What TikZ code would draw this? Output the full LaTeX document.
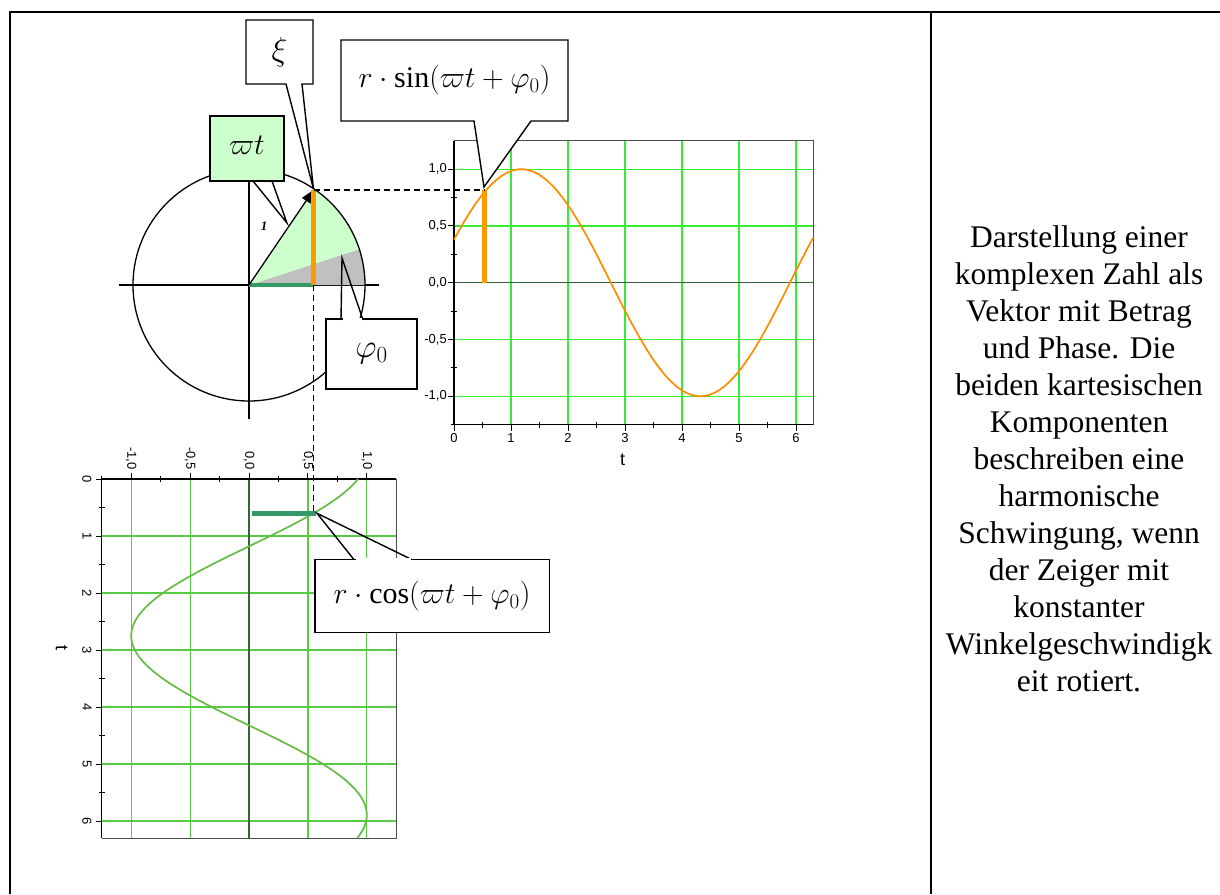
\RequirePackage{fix-cm}
\documentclass[tikz,border=0pt]{standalone}
\usepackage{fontspec}
\setmainfont{Liberation Serif}
\newfontfamily\plotfont{Liberation Sans}
\usetikzlibrary{arrows.meta}
\definecolor{lightgreen}{HTML}{CCFFCC}
\definecolor{sectorgray}{HTML}{C0C0C0}
\definecolor{barorange}{HTML}{FF9900}
\definecolor{curveorange}{HTML}{FF8C00}
\definecolor{bargreen}{HTML}{339966}
\definecolor{gridgreen}{HTML}{33EE33}
\definecolor{gridgreenb}{HTML}{55CC44}
\definecolor{cosgreen}{HTML}{66BB44}
\definecolor{zerogreen}{HTML}{336633}
\tikzset{
  tableline/.style={line width=2pt},
  boxline/.style={draw=black, line width=1.4pt, line join=miter},
  calltext/.style={font=\fontsize{30}{34}\selectfont, inner sep=0pt},
  ticklab/.style={font=\plotfont\fontsize{13}{15}\selectfont, inner sep=1pt},
  axislab/.style={font=\plotfont\fontsize{18}{19}\selectfont, inner sep=0pt},
  gridline/.style={gridgreen, line width=1.2pt},
  gridlineb/.style={gridgreenb, line width=1.2pt},
  tickline/.style={line width=1pt},
  dashline/.style={line width=1.3pt, dash pattern=on 6pt off 4pt},
}
\begin{document}
\begin{tikzpicture}[x=1pt,y=-1pt]
\useasboundingbox (0,0) rectangle (1220,894);

% table lines
\draw[tableline] (9,12) -- (1220,12);
\draw[tableline] (10,11) -- (10,894);
\draw[tableline] (931,12) -- (931,894);

% ---------- circle ----------
\coordinate (C) at (249,285);
\coordinate (tip) at (313.5,190);
\coordinate (foot) at (313.5,285);
\draw[line width=1.3pt] (119,285) -- (379,285);
\draw[line width=1.3pt] (249,165) -- (249,419);
\fill[sectorgray] (C) -- ++(0:116) arc[start angle=0,end angle=-18,radius=116] -- cycle;
\fill[lightgreen] (C) -- ++(-18:116) arc[start angle=-18,end angle=-55.8,radius=116] -- cycle;
\draw[line width=1.3pt] (C) circle[radius=116];
\draw[bargreen, line width=4pt] (C) -- (foot);
\draw[line width=1.3pt, -{Triangle[length=13pt,width=10pt]}] (C) -- (tip);
\draw[barorange, line width=4.5pt] (foot) -- (tip);
\node[font=\bfseries\itshape\fontsize{13}{14}\selectfont, inner sep=0pt] (one) at (264,226) {1};

% ---------- sine plot ----------
\coordinate (sbbot) at (484,282.7);
\coordinate (sbtop) at (484,190);
\begin{scope}[shift={(454,282.7)}, x=57pt, y=113.5pt]
  \foreach \t in {1,...,6} \draw[gridline] (\t,-1.25) -- (\t,1.25);
  \foreach \v in {-1,-0.5,0.5,1} \draw[gridline] (0,\v) -- (6.3,\v);
  \draw[zerogreen, line width=1.2pt] (0,0) -- (6.3,0);
  \draw[black!70, line width=1pt] (0,1.25) -- (6.3,1.25) -- (6.3,-1.25);
  \draw[line width=1.3pt] (0,1.25) -- (0,-1.25) -- (6.3,-1.25);
  \foreach \v in {-1,-0.5,0,0.5,1} \draw[tickline] (0,\v) -- ++(-6pt,0pt);
  \foreach \v in {-1.25,-0.75,-0.25,0.25,0.75} \draw[tickline] (0,\v) ++(-3pt,0pt) -- ++(6pt,0pt);
  \foreach \t in {0,...,6} \draw[tickline] (\t,-1.25) -- ++(0pt,-6pt);
  \foreach \t in {0.5,1.5,2.5,3.5,4.5,5.5} \draw[tickline] (\t,-1.25) ++(0pt,-3pt) -- ++(0pt,6pt);
  \foreach \v/\l/\n in {1/{1,0}/a,0.5/{0,5}/b,0/{0,0}/c,-0.5/{-0,5}/d,-1/{-1,0}/e}
    \node[ticklab, anchor=east] (sy\n) at ([xshift=-6pt]0,\v) {\l};
  \foreach \t in {0,...,6}
    \node[ticklab, anchor=north] (sx\t) at ([yshift=-8pt]\t,-1.25) {\t};
  \draw[curveorange, line width=1.7pt] plot[domain=0:6.3, samples=140, smooth] (\x,{sin((\x+0.39) r)});
\end{scope}
\node[axislab] (tsin) at (622.7,460) {t};
\draw[barorange, line width=5pt] (sbbot) -- (sbtop);

% ---------- cosine plot ----------
\coordinate (cb1) at (252,513.3);
\coordinate (cb2) at (316,513.3);
\begin{scope}[shift={(249,479)}, x=117.8pt, y=-57pt]
  \foreach \v in {-1,-0.5,0.5,1} \draw[gridlineb] (\v,0) -- (\v,6.3);
  \foreach \t in {1,...,6} \draw[gridlineb] (-1.25,\t) -- (1.25,\t);
  \draw[zerogreen, line width=1.2pt] (0,0) -- (0,6.3);
  \draw[black!70, line width=1pt] (1.25,0) -- (1.25,6.3) -- (-1.25,6.3);
  \draw[line width=1.3pt] (1.25,0) -- (-1.25,0) -- (-1.25,6.3);
  \foreach \v in {-1,-0.5,0,0.5,1} \draw[tickline] (\v,0) -- ++(0pt,6pt);
  \foreach \v in {-1.25,-0.75,-0.25,0.25,0.75} \draw[tickline] (\v,0) ++(0pt,-3pt) -- ++(0pt,6pt);
  \foreach \t in {0,...,6} \draw[tickline] (-1.25,\t) -- ++(-6pt,0pt);
  \foreach \t in {0.5,1.5,2.5,3.5,4.5,5.5} \draw[tickline] (-1.25,\t) ++(-3pt,0pt) -- ++(6pt,0pt);
  \foreach \v/\l/\n in {1/{1,0}/a,0.5/{0,5}/b,0/{0,0}/c,-0.5/{-0,5}/d,-1/{-1,0}/e}
    \node[ticklab, anchor=east, rotate=-90] (cy\n) at ([yshift=8pt]\v,0) {\l};
  \foreach \t in {0,...,6}
    \node[ticklab, anchor=north, rotate=-90] (cx\t) at ([xshift=-9pt]-1.25,\t) {\t};
  \draw[cosgreen, line width=1.7pt] plot[domain=0:6.3, samples=140, smooth] ({cos((\x+0.39) r)},\x);
\end{scope}
\node[axislab, rotate=-90] (tcos) at (61.7,648.3) {t};
\draw[bargreen, line width=5pt] (cb1) -- (cb2);

% dashed guide lines
\draw[dashline] (tip) -- (sbtop);
\draw[dashline] (foot) -- (foot |- cb2);

% ---------- callouts ----------
% xi
\coordinate (xitip) at (313.5,189);
\filldraw[boxline, fill=white] (246,20) -- (313,20) -- (313,84) -- (302,84) -- (xitip) -- (286,84) -- (246,84) -- cycle;
\node[calltext, font=\fontsize{33}{36}\selectfont] (xi) at (279.5,52) {$\xi$};
% omega t
\coordinate (omtip) at (287,223);
\draw[boxline] (253,181) -- (omtip) -- (272,181);
\filldraw[boxline, fill=lightgreen] (210,116) rectangle (284,181);
\node[calltext] (om) at (247,145) {$\varpi t$};
% phi0
\coordinate (phtip) at (342,258);
\filldraw[boxline, fill=white] (326,319) rectangle (417,389);
\draw[boxline, line join=miter] (341,320) -- (phtip) -- (363,320);
\draw[white, line width=2pt] (342.5,319) -- (361.5,319);
\node[calltext, font=\fontsize{33}{36}\selectfont] (ph) at (371.5,354) {$\varphi_0$};
% sine expression
\coordinate (sintip) at (484,187);
\filldraw[boxline, fill=white] (341,40) -- (568,40) -- (568,121) -- (531,121) -- (sintip) -- (474,121) -- (341,121) -- cycle;
\node[calltext] (sinexpr) at (454.5,80) {$r\cdot\sin\bigl(\varpi t+\varphi_0\bigr)$};
% cosine expression
\coordinate (costip) at (317,513.3);
\draw[boxline] (354.3,560) -- (costip) -- (412.7,560);
\filldraw[boxline, fill=white] (315,559.3) rectangle (549.3,632.3);
\draw[white, line width=2pt] (355.8,559.3) -- (411.2,559.3);
\node[calltext] (cosexpr) at (432,596) {$r\cdot\cos\bigl(\varpi t+\varphi_0\bigr)$};

% ---------- description ----------
\node[font=\fontsize{31.5}{37}\selectfont, align=center, inner sep=0pt] (desc) at (1079,459)
 {Darstellung einer\\komplexen Zahl als\\Vektor mit Betrag\\und Phase. Die\\beiden kartesischen\\Komponenten\\beschreiben eine\\harmonische\\Schwingung, wenn\\der Zeiger mit\\konstanter\\Winkelgeschwindigk\\eit rotiert.};
\end{tikzpicture}
\end{document}
